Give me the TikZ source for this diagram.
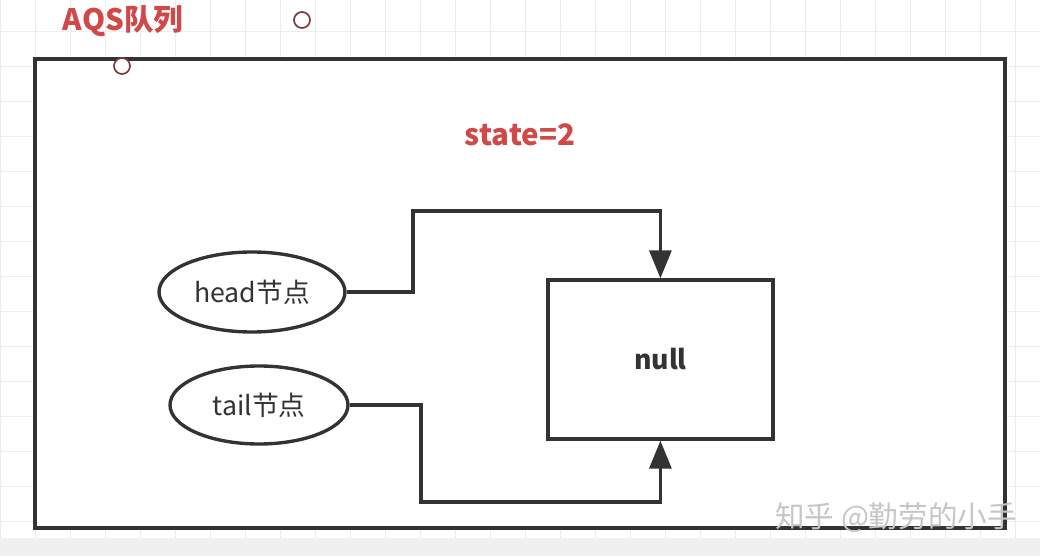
\documentclass[tikz,border=0pt]{standalone}
\usepackage{fontspec}
\setmainfont{Noto Sans CJK SC}
\usetikzlibrary{shapes.geometric,arrows.meta}
\definecolor{linegray}{RGB}{51,51,51}
\definecolor{gridgray}{RGB}{236,236,236}
\definecolor{titlered}{RGB}{208,72,72}
\definecolor{dotred}{RGB}{120,60,60}

\begin{document}
\begin{tikzpicture}
    \tikzstyle{oval}=[ellipse,line width=2.4pt,draw=linegray,fill=white,inner sep=0pt,text=linegray,font=\fontsize{19}{22}\selectfont]
    \tikzstyle{nodebox}=[rectangle,line width=2.4pt,draw=linegray,fill=white,minimum width=5.625cm,minimum height=3.975cm,text=linegray,font=\fontsize{19}{22}\selectfont\bfseries]
    \tikzstyle{link}=[line width=2.4pt,draw=linegray,-{Triangle[length=0.7cm,width=0.55cm]}]
    \tikzstyle{dot}=[circle,line width=1.2pt,draw=dotred,fill=white,inner sep=0pt,minimum size=0.4cm]
    \useasboundingbox (0,0) rectangle (26,13.9);
    % background grid
    \fill[white] (0,0) rectangle (26,13.9);
    \draw[gridgray,line width=0.6pt,step=0.875] (0,0.45) grid (26,13.9);
    \fill[gray!12] (0,0) rectangle (26,0.45);
    % outer frame
    \node (queue)[draw=linegray,line width=2.4pt,fill=white,inner sep=0pt,minimum width=24.25cm,minimum height=11.725cm] at (13,6.5625) {};
    \node (title)[text=titlered,font=\fontsize{21}{24}\selectfont\bfseries] at (3.075,13.375) {AQS队列};
    \node (d1)[dot] at (7.55,13.4) {};
    \node (d2)[dot] at (3.05,12.25) {};
    \node (state)[text=titlered,font=\fontsize{21}{24}\selectfont\bfseries] at (13,10.525) {state=2};
    \node (head)[oval,minimum width=4.65cm,minimum height=2cm] at (6.3,6.6) {head节点};
    \node (tail)[oval,minimum width=4.45cm,minimum height=1.95cm] at (6.475,3.775) {tail节点};
    \node (null)[nodebox] at (16.51,4.9125) {null};
    \draw[link] (head.east) -| (10.325,8.625) -| (null.north);
    \draw[link] (tail.east) -| (10.525,1.35) -| (null.south);
    \node (mark)[text=gray!45,font=\fontsize{21}{24}\selectfont] at (22.4,0.95) {知乎 @勤劳的小手};
\end{tikzpicture}
\end{document}
